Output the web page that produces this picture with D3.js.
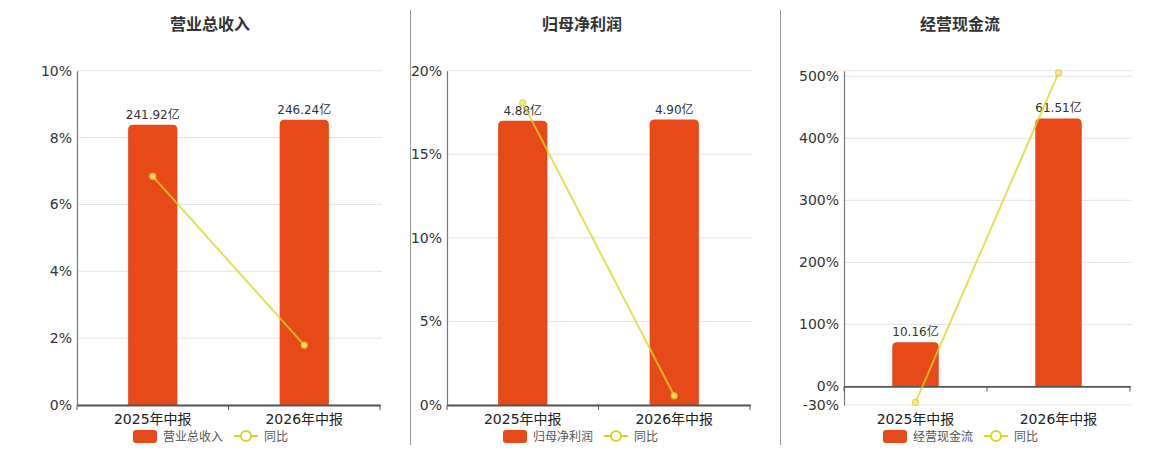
<!DOCTYPE html>
<html><head><meta charset="utf-8">
<script src="https://cdn.jsdelivr.net/npm/d3@7/dist/d3.min.js"></script>
<style>
html,body{margin:0;padding:0;background:#fff;}
svg{display:block;font-family:"DejaVu Sans","Noto Sans CJK SC",sans-serif;}
</style></head>
<body>
<svg id="chart" width="1160" height="450"></svg>
<script>
// ---- data ----
const categories = ["2025年中报", "2026年中报"];
const titles = ["营业总收入", "归母净利润", "经营现金流"];
const barNames = ["营业总收入", "归母净利润", "经营现金流"];
const lineName = "同比";
const revenue = [241.92, 246.24];          // 亿
const netProfit = [4.88, 4.90];            // 亿
const cashFlow = [10.16, 61.51];           // 亿
const revenueYoY = [6.84, 1.79];           // %
const netProfitYoY = [18.07, 0.55];        // %
const cashFlowYoY = [-25.9, 505.4];        // %
const revenueTicks = [0, 2, 4, 6, 8, 10];
const netProfitTicks = [0, 5, 10, 15, 20];
const cashFlowTicks = [-30, 0, 100, 200, 300, 400, 500];

// ---- layout (not data) ----
const panels = [
  {bars: revenue, yoy: revenueYoY, ticks: revenueTicks, pctDomain: [0, 10], barDomain: [0, 288.6],
   x0: 77, x1: 380, titleX: 210, legendX: 133},
  {bars: netProfit, yoy: netProfitYoY, ticks: netProfitTicks, pctDomain: [0, 20], barDomain: [0, 5.74],
   x0: 447, x1: 750, titleX: 582, legendX: 503},
  {bars: cashFlow, yoy: cashFlowYoY, ticks: cashFlowTicks, pctDomain: [-30, 509], barDomain: [-4.27, 72.46],
   x0: 844, x1: 1130, titleX: 960, legendX: 883}
];
const yTop = 70.7, yBottom = 405;
const barColor = "#e64a19";
const lineColor = "#d9d620";

const svg = d3.select("#chart");

// dividers
[410.5, 780.5].forEach(x => {
  svg.append("line").attr("x1", x).attr("x2", x).attr("y1", 10).attr("y2", 445)
    .attr("stroke", "#999").attr("stroke-width", 1);
});

panels.forEach((p, i) => {
  const g = svg.append("g");
  const y = d3.scaleLinear().domain(p.pctDomain).range([yBottom, yTop]);
  const yb = d3.scaleLinear().domain(p.barDomain).range([yBottom, yTop]);
  const x = d3.scaleBand().domain(categories).range([p.x0, p.x1]);
  const bw = x.bandwidth() * 0.325;

  // title
  g.append("text").attr("x", p.titleX).attr("y", 30).attr("text-anchor", "middle")
    .attr("font-size", 16).attr("font-weight", "bold").attr("fill", "#333")
    .attr("font-family", "Noto Sans CJK SC").text(titles[i]);

  // gridlines
  const gridVals = p.ticks.slice();
  if (gridVals[gridVals.length - 1] !== p.pctDomain[1]) gridVals.push(p.pctDomain[1]);
  g.selectAll(".grid").data(gridVals).join("line")
    .attr("x1", p.x0).attr("x2", p.x1 + 2)
    .attr("y1", d => y(d)).attr("y2", d => y(d))
    .attr("stroke", "#e3e3e3").attr("stroke-width", 1);

  // y axis
  const yAxis = d3.axisLeft(y).tickValues(p.ticks).tickFormat(d => d + "%").tickSize(0).tickPadding(5);
  const ya = g.append("g").attr("transform", `translate(${p.x0},0)`).call(yAxis);
  ya.select(".domain").attr("stroke", "#777").attr("stroke-width", 1.2);
  ya.selectAll("text").attr("font-size", 14).attr("fill", "#333")
    .attr("font-family", "DejaVu Sans");

  // bars (rounded top)
  const r = 5;
  g.selectAll(".bar").data(p.bars).join("path")
    .attr("fill", barColor)
    .attr("d", (d, j) => {
      const cx = x(categories[j]) + x.bandwidth() / 2;
      const l = cx - bw / 2, rr = cx + bw / 2;
      const top = yb(d), base = yb(0);
      return `M${l},${base}V${top + r}Q${l},${top} ${l + r},${top}H${rr - r}Q${rr},${top} ${rr},${top + r}V${base}Z`;
    });

  // value labels
  g.selectAll(".vl").data(p.bars).join("text")
    .attr("x", (d, j) => x(categories[j]) + x.bandwidth() / 2)
    .attr("y", d => yb(d) - 6)
    .attr("text-anchor", "middle").attr("font-size", 12).attr("fill", "#333")
    .text(d => d.toFixed(2) + "亿");

  // x axis at zero
  const xAxis = d3.axisBottom(x).tickSize(0).tickFormat("");
  const xa = g.append("g").attr("transform", `translate(0,${y(0)})`).call(xAxis);
  xa.select(".domain").attr("stroke", "#555").attr("stroke-width", 1.8);
  // boundary ticks
  const bounds = [p.x0, x(categories[1]), p.x1];
  g.selectAll(".bt").data(bounds).join("line")
    .attr("x1", d => d).attr("x2", d => d)
    .attr("y1", y(0)).attr("y2", y(0) + 5)
    .attr("stroke", "#555").attr("stroke-width", 1);

  // category labels
  g.selectAll(".cl").data(categories).join("text")
    .attr("x", d => x(d) + x.bandwidth() / 2)
    .attr("y", 424).attr("text-anchor", "middle")
    .attr("font-size", 14).attr("fill", "#222").text(d => d);

  // yoy line
  const line = d3.line().x((d, j) => x(categories[j]) + x.bandwidth() / 2).y(d => y(d));
  g.append("path").datum(p.yoy).attr("d", line)
    .attr("fill", "none").attr("stroke", lineColor).attr("stroke-width", 2).attr("opacity", 0.75);
  g.selectAll(".pt").data(p.yoy).join("circle")
    .attr("cx", (d, j) => x(categories[j]) + x.bandwidth() / 2)
    .attr("cy", d => y(d)).attr("r", 3)
    .attr("fill", "#f3ea8a").attr("stroke", lineColor).attr("stroke-width", 1.2).attr("opacity", 0.85);

  // legend
  const lg = g.append("g").attr("transform", `translate(${p.legendX},436)`);
  lg.append("rect").attr("x", 0).attr("y", -6).attr("width", 24).attr("height", 13).attr("rx", 3)
    .attr("fill", barColor);
  lg.append("text").attr("x", 30).attr("y", 4.5).attr("font-size", 12).attr("fill", "#555")
    .attr("font-family", "Noto Sans CJK SC").text(barNames[i]);
  lg.append("line").attr("x1", 101).attr("x2", 125).attr("y1", 0).attr("y2", 0)
    .attr("stroke", lineColor).attr("stroke-width", 2);
  lg.append("circle").attr("cx", 113).attr("cy", 0).attr("r", 5)
    .attr("fill", "#fff").attr("stroke", lineColor).attr("stroke-width", 2);
  lg.append("text").attr("x", 131).attr("y", 4.5).attr("font-size", 12).attr("fill", "#555")
    .attr("font-family", "Noto Sans CJK SC").text(lineName);
});
</script>
</body></html>
